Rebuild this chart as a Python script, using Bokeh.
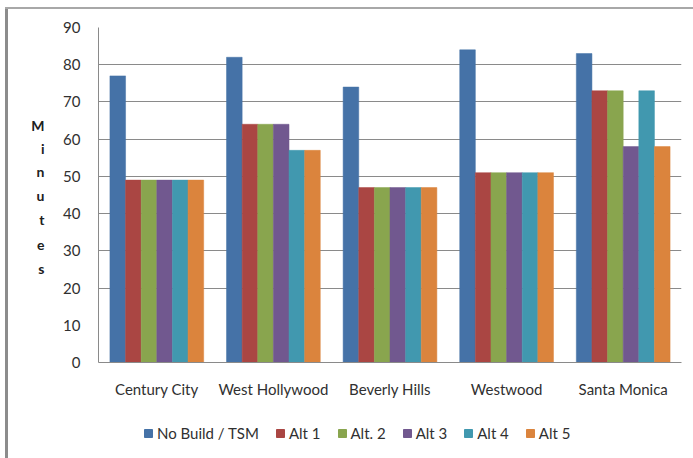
from bokeh.plotting import figure
from bokeh.layouts import column
from bokeh.models import (ColumnDataSource, FactorRange, FixedTicker, Legend, LegendItem,
                          InlineStyleSheet, LinearAxis)
from bokeh.transform import dodge
from bokeh.embed import file_html
from bokeh.resources import INLINE

cities = ["Century City", "West Hollywood", "Beverly Hills", "Westwood", "Santa Monica"]
series_names = ["No Build / TSM", "Alt 1", "Alt. 2", "Alt 3", "Alt 4", "Alt 5"]
no_build = [77, 82, 74, 84, 83]
alt1 = [49, 64, 47, 51, 73]
alt2 = [49, 64, 47, 51, 73]
alt3 = [49, 64, 47, 51, 58]
alt4 = [49, 57, 47, 51, 73]
alt5 = [49, 57, 47, 51, 58]
colors = ["#4572A7", "#AA4643", "#89A54E", "#71588F", "#4198AF", "#DB843D"]
y_ticks = [0, 10, 20, 30, 40, 50, 60, 70, 80, 90]
grid_ticks = [20, 30, 40, 50, 60, 70, 80]
y_title_letters = list("Minutes")
# vertical placement of the stacked title letters (layout only)
y_title_pos = [63.8, 57.5, 51.3, 45.0, 38.5, 31.6, 25.2]

FONT = "Lato"
W = 693
H_MAIN, H_LEG = 400, 58
left, right, top, bottom = 98, 681, 27, 364

p = figure(x_range=FactorRange(*cities, range_padding=0), y_range=(0, 90),
           width=W, height=H_MAIN, output_backend="svg", toolbar_location=None,
           min_border_left=left, min_border_right=W - right,
           min_border_top=top, min_border_bottom=H_MAIN - bottom)

src = ColumnDataSource(dict(city=cities, s0=no_build, s1=alt1, s2=alt2, s3=alt3, s4=alt4, s5=alt5))
bw = 0.134
for i, c in enumerate(colors):
    off = (i - 2.5) * bw
    p.vbar(x=dodge("city", off, range=p.x_range), top="s%d" % i, width=bw, source=src,
           fill_color=c, line_color=c, line_width=0.5)

p.yaxis.ticker = FixedTicker(ticks=y_ticks)
p.ygrid.ticker = FixedTicker(ticks=grid_ticks)
p.ygrid.grid_line_color = "#8a8a8a"
p.ygrid.grid_line_width = 1
p.xgrid.grid_line_color = None
p.outline_line_color = None

for ax in (p.xaxis[0], p.yaxis[0]):
    ax.axis_line_color = "#8a8a8a"
    ax.axis_line_width = 1
    ax.major_tick_line_color = None
    ax.minor_tick_line_color = None
    ax.major_label_text_font = FONT
    ax.major_label_text_font_size = "15px"
    ax.major_label_text_color = "#303030"
p.yaxis.major_label_standoff = 12
p.xaxis.major_label_standoff = 11

# stacked "Minutes" title drawn as the labels of an extra, line-less left axis
title_axis = LinearAxis(ticker=FixedTicker(ticks=y_title_pos),
                        major_label_overrides={v: t for v, t in zip(y_title_pos, y_title_letters)},
                        axis_line_color=None, major_tick_line_color=None, minor_tick_line_color=None,
                        major_label_standoff=10, major_label_text_font=FONT,
                        major_label_text_font_style="bold", major_label_text_font_size="14px",
                        major_label_text_color="#202020")
p.add_layout(title_axis, "left")

p.stylesheets = [InlineStyleSheet(css="""
:host::before { content: ''; position: absolute; left: 5px; top: 7px; bottom: 0; width: 3px;
  background: #8c8c8c; z-index: 10; pointer-events: none; }
:host::after { content: ''; position: absolute; left: 5px; top: 7px; right: 0; height: 2px;
  background: #a8a8a8; z-index: 10; pointer-events: none; }
""")]

# legend strip below the chart (swatches come from undrawn NaN copies of the bar styles)
lf = figure(width=W, height=H_LEG, x_range=(0, 1), y_range=(0, 1), output_backend="svg",
            toolbar_location=None, min_border=0, x_axis_type=None, y_axis_type=None)
lf.grid.visible = False
lf.outline_line_color = None
items = []
for nm, c in zip(series_names, colors):
    r = lf.vbar(x=[float("nan")], top=[float("nan")], width=0.1, fill_color=c, line_color=c)
    items.append(LegendItem(label=nm, renderers=[r]))
legend = Legend(items=items, orientation="horizontal", location=(45, 16),
                glyph_width=10, glyph_height=10, label_standoff=4, spacing=16,
                padding=0, margin=0, border_line_color=None, background_fill_alpha=0,
                label_text_font=FONT, label_text_font_size="15px", label_text_color="#303030",
                label_height=12)
lf.add_layout(legend, "center")
lf.stylesheets = [InlineStyleSheet(css="""
:host::before { content: ''; position: absolute; left: 5px; top: 0; bottom: 0; width: 3px;
  background: #8c8c8c; z-index: 10; pointer-events: none; }
""")]

layout = column(p, lf, spacing=0)
open("out.html", "w").write(file_html(layout, INLINE))
